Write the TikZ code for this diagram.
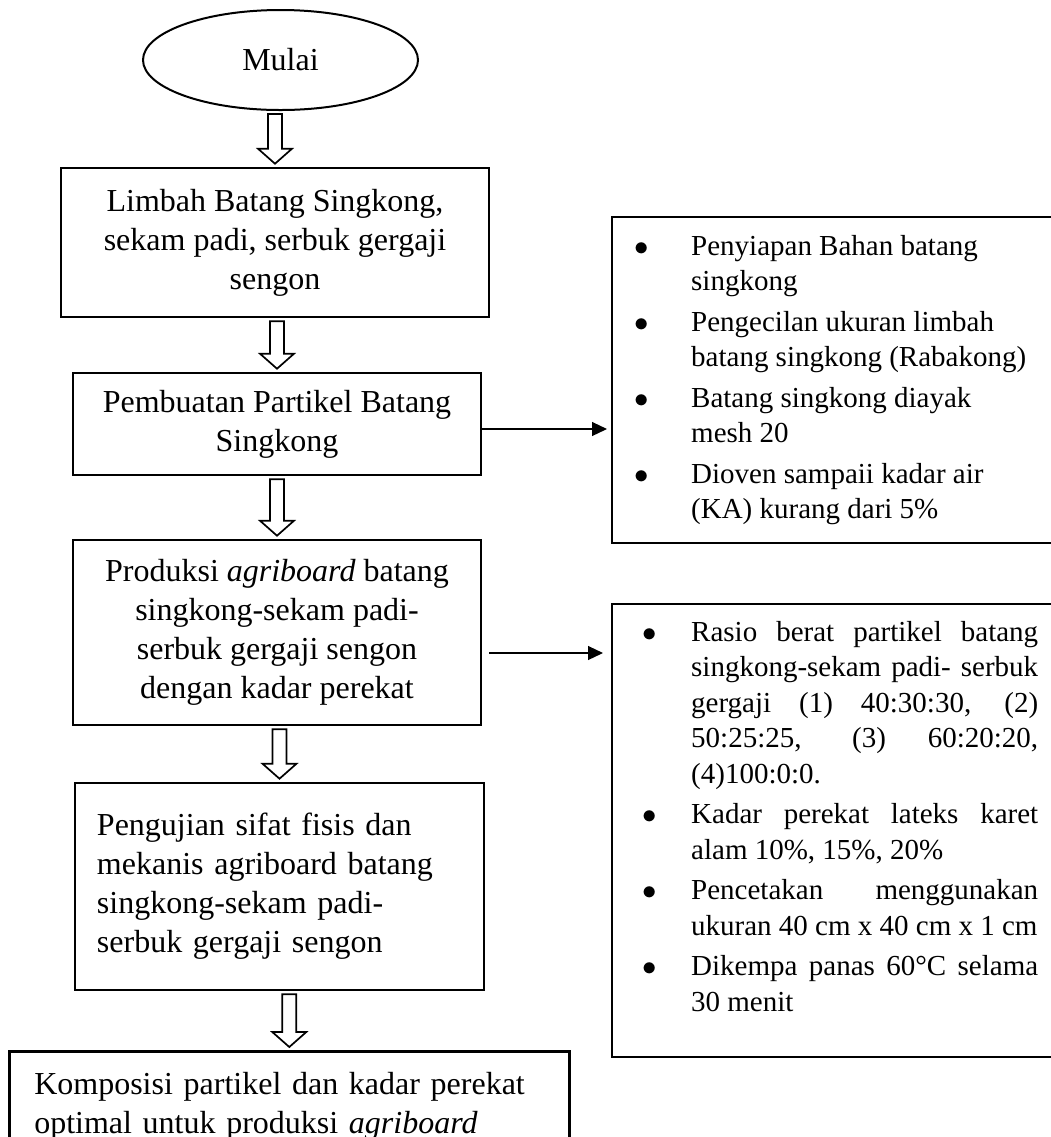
\documentclass[tikz,border=0pt]{standalone}
\usepackage{fontspec}
\setmainfont{Liberation Serif}
\usetikzlibrary{shapes.geometric,arrows.meta,calc}

% block arrow from the bottom of #1 down to the top of #2
\newcommand{\hollowarrow}[2]{%
  \draw[hollow] ($(#2.north |- #1.south)+(-7,3)$) -- ($(#2.north)+(-7,-18)$)
    -- ($(#2.north)+(-17,-18)$) -- ($(#2.north)+(0,-3)$) -- ($(#2.north)+(17,-18)$)
    -- ($(#2.north)+(7,-18)$) -- ($(#2.north |- #1.south)+(7,3)$) -- cycle;}

\newcommand{\notelist}[3]{% labelsep, labelwidth, body
  \begin{list}{$\bullet$}{\setlength{\leftmargin}{32.5pt}\setlength{\rightmargin}{24pt}%
    \setlength{\labelsep}{#1}\setlength{\labelwidth}{#2}\setlength{\itemsep}{2.5pt}%
    \setlength{\parsep}{0pt}\setlength{\topsep}{0pt}\setlength{\partopsep}{0pt}}#3\end{list}}

\begin{document}
\begin{tikzpicture}[x=0.5pt,y=-0.5pt,
  startnode/.style={ellipse, draw, line width=1pt, minimum width=137.5pt, minimum height=50pt,
    font=\fontsize{16pt}{19.5pt}\selectfont},
  procbox/.style={draw, line width=1.3pt, inner sep=0pt, align=center,
    font=\fontsize{16pt}{19.5pt}\selectfont},
  notebox/.style={draw, line width=1.2pt, anchor=north west, inner xsep=7pt, inner ysep=0pt,
    font=\fontsize{14.5pt}{17.75pt}\selectfont},
  hollow/.style={line width=0.85pt, fill=white},
  sidearrow/.style={line width=0.6pt, -{Triangle[length=7.5pt,width=7pt]}}]
\useasboundingbox (0,0) rectangle (1051,1137);
\clip (0,0) rectangle (1051,1137);

\node[startnode] (start) at (280.5,60) {Mulai};
\node[procbox, minimum width=214pt, minimum height=74.5pt] (waste) at (275,242.5)
  {Limbah Batang Singkong,\\ sekam padi, serbuk gergaji\\ sengon};
\node[procbox, minimum width=204pt, minimum height=51pt] (particle) at (277,424)
  {Pembuatan Partikel Batang\\ Singkong};
\node[procbox, minimum width=204pt, minimum height=92.5pt] (production) at (277,632.5)
  {Produksi \textit{agriboard} batang\\ singkong-sekam padi-\\ serbuk gergaji sengon\\ dengan kadar perekat};
\node[procbox, text width=182.5pt, inner xsep=11pt, minimum height=103.5pt, align=left] (testing) at (279.5,886.5)
  {Pengujian sifat fisis dan\\ mekanis agriboard batang\\ singkong-sekam padi-\\ serbuk gergaji sengon};
\node[procbox, anchor=north west, text width=255pt, inner xsep=12.5pt, inner ysep=10.5pt, align=left] (result) at (8,1050)
  {Komposisi partikel dan kadar perekat\\ optimal untuk produksi \textit{agriboard}};

% notes on the right
\node[notebox] (prepnotes) at (611,216) {\parbox[c][163pt][c]{230pt}{\raggedright
  \notelist{21pt}{11.5pt}{%
  \item Penyiapan Bahan batang\\ singkong
  \item Pengecilan ukuran limbah\\ batang singkong (Rabakong)
  \item Batang singkong diayak\\ mesh 20
  \item Dioven sampaii kadar air\\ (KA) kurang dari 5\%}}};
\node[notebox] (mixnotes) at (611,603) {\parbox[c][226.5pt][t]{230pt}{\vspace*{8.5pt}%
  \exhyphenpenalty=10000 \hyphenpenalty=10000
  \notelist{17pt}{15.5pt}{%
  \item Rasio berat partikel batang\linebreak singkong-sekam padi- serbuk\linebreak gergaji (1) 40:30:30, (2)\linebreak 50:25:25, (3) 60:20:20,\linebreak (4)100:0:0.
  \item Kadar perekat lateks karet\linebreak alam 10\%, 15\%, 20\%
  \item Pencetakan menggunakan\linebreak ukuran 40 cm x 40 cm x 1 cm
  \item Dikempa panas 60°C selama\linebreak 30 menit}}};

\hollowarrow{start}{waste}
\hollowarrow{waste}{particle}
\hollowarrow{particle}{production}
\hollowarrow{production}{testing}
\hollowarrow{testing}{result}

\draw[sidearrow] ($(particle.east)+(0,5)$) -- ($(particle.east -| prepnotes.west)+(-4,5)$);
\draw[sidearrow] ($(production.east)+(7,20.5)$) -- ($(production.east -| mixnotes.west)+(-8,20.5)$);
\end{tikzpicture}
\end{document}
